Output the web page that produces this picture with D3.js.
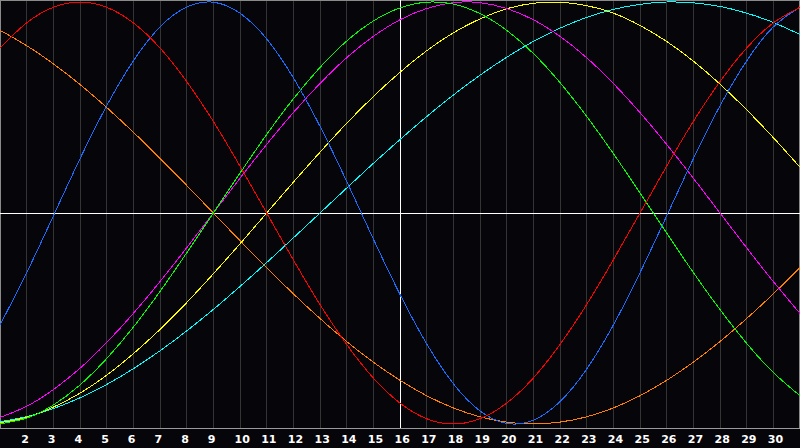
<!DOCTYPE html>
<html>
<head>
<meta charset="utf-8">
<script src="https://cdn.jsdelivr.net/npm/d3@7"></script>
<style>
    html, body { margin: 0; padding: 0; background: #060509; }
    svg { display: block; }
</style>
</head>
<body>
<svg width="800" height="448"></svg>
<script>
var days = d3.range(1, 32);
var tickDays = d3.range(2, 31);
var today = 16;

// daily cycle values (-1 .. 1)
var red = [0.782, 0.901, 0.975, 1.000, 0.975, 0.901, 0.782, 0.623, 0.434, 0.222, 0.000, -0.222, -0.434, -0.623, -0.782, -0.901,
    -0.975, -1.000, -0.975, -0.901, -0.782, -0.623, -0.434, -0.222, 0.000, 0.222, 0.434, 0.623, 0.782, 0.901, 0.975];
var blue = [-0.531, -0.283, -0.014, 0.257, 0.508, 0.721, 0.882, 0.976, 0.999, 0.947, 0.825, 0.641, 0.411, 0.150, -0.123, -0.386,
    -0.620, -0.809, -0.938, -0.997, -0.982, -0.894, -0.740, -0.531, -0.283, -0.014, 0.257, 0.508, 0.721, 0.882, 0.976];
var green = [-0.999, -0.972, -0.910, -0.815, -0.690, -0.541, -0.372, -0.189, 0.000, 0.189, 0.372, 0.541, 0.690, 0.815, 0.910, 0.972,
    0.999, 0.990, 0.945, 0.866, 0.756, 0.618, 0.458, 0.282, 0.095, -0.095, -0.282, -0.458, -0.618, -0.756, -0.866];
var magenta = [-0.969, -0.916, -0.837, -0.736, -0.614, -0.476, -0.325, -0.165, 0.000, 0.165, 0.325, 0.476, 0.614, 0.736, 0.837, 0.916,
    0.969, 0.997, 0.997, 0.969, 0.916, 0.837, 0.736, 0.614, 0.476, 0.325, 0.165, 0.000, -0.165, -0.325, -0.476];
var yellow = [-0.994, -0.968, -0.920, -0.854, -0.769, -0.667, -0.552, -0.425, -0.288, -0.146, 0.000, 0.146, 0.288, 0.425, 0.552, 0.667,
    0.769, 0.854, 0.920, 0.968, 0.994, 0.999, 0.983, 0.947, 0.889, 0.813, 0.720, 0.611, 0.489, 0.357, 0.217];
var orange = [0.866, 0.793, 0.707, 0.609, 0.500, 0.383, 0.259, 0.131, 0.000, -0.131, -0.259, -0.383, -0.500, -0.609, -0.707, -0.793,
    -0.866, -0.924, -0.966, -0.991, -1.000, -0.991, -0.966, -0.924, -0.866, -0.793, -0.707, -0.609, -0.500, -0.383, -0.259];
var cyan = [-0.989, -0.965, -0.927, -0.876, -0.813, -0.738, -0.653, -0.559, -0.457, -0.348, -0.235, -0.118, 0.000, 0.118, 0.235, 0.348,
    0.457, 0.559, 0.653, 0.738, 0.813, 0.876, 0.927, 0.965, 0.989, 1.000, 0.996, 0.979, 0.947, 0.903, 0.846];

var series = [
    {id: "orange", color: "#ff8000", values: orange},
    {id: "cyan", color: "#00ffff", values: cyan},
    {id: "yellow", color: "#ffff00", values: yellow},
    {id: "magenta", color: "#ff00ff", values: magenta},
    {id: "green", color: "#00ff00", values: green},
    {id: "blue", color: "#1a6cff", values: blue},
    {id: "red", color: "#ff0000", values: red}
];

(function () {
    var svg = d3.select("svg"),
        width = +svg.attr("width"),
        plotBottom = 428;

    var scaleX = d3.scaleLinear().domain([1, 31]).range([0, width]),
        scaleY = d3.scaleLinear().domain([-1, 1]).range([424, 2]);

    var px = function (v) {
        return Math.floor(v) + 0.5;
    };

    svg.append("rect")
        .attr("width", width)
        .attr("height", 448)
        .attr("fill", "#060509");

    // day grid
    svg.append("g")
        .selectAll("line")
        .data(tickDays)
        .enter().append("line")
        .attr("x1", function (d) { return px(scaleX(d)); })
        .attr("x2", function (d) { return px(scaleX(d)); })
        .attr("y1", 0)
        .attr("y2", plotBottom)
        .attr("stroke", "#343434")
        .attr("shape-rendering", "crispEdges");

    // frame
    svg.append("path")
        .attr("d", "M0.5," + plotBottom + "V0.5H" + (width - 0.5) + "V" + plotBottom)
        .attr("fill", "none")
        .attr("stroke", "#8a8a8a")
        .attr("shape-rendering", "crispEdges");

    // zero line and today marker
    svg.append("line")
        .attr("x1", 0).attr("x2", width)
        .attr("y1", px(scaleY(0))).attr("y2", px(scaleY(0)))
        .attr("stroke", "#ffffff")
        .attr("shape-rendering", "crispEdges");
    svg.append("line")
        .attr("x1", px(scaleX(today))).attr("x2", px(scaleX(today)))
        .attr("y1", 0).attr("y2", plotBottom)
        .attr("stroke", "#ffffff")
        .attr("shape-rendering", "crispEdges");

    var line = d3.line()
        .curve(d3.curveNatural)
        .x(function (d, i) { return scaleX(days[i]); })
        .y(function (d) { return scaleY(d); });

    svg.append("g")
        .selectAll("path")
        .data(series)
        .enter().append("path")
        .attr("d", function (s) { return line(s.values); })
        .attr("fill", "none")
        .attr("stroke", function (s) { return s.color; })
        .attr("stroke-width", 1)
        .attr("shape-rendering", "crispEdges");

    // bottom axis
    var axis = svg.append("g")
        .attr("transform", "translate(0," + plotBottom + ")")
        .call(d3.axisBottom(scaleX).tickValues(tickDays).tickSize(0).tickFormat(d3.format("d")));

    axis.select(".domain")
        .attr("d", "M0,0.5H" + width)
        .attr("stroke", "#9a9a9a")
        .attr("shape-rendering", "crispEdges");

    axis.selectAll("text")
        .attr("x", -6)
        .attr("y", 15)
        .attr("dy", 0)
        .attr("text-anchor", "start")
        .attr("fill", "#ffffff")
        .style("font", "bold 11px 'DejaVu Sans', sans-serif");
})();
</script>
</body>
</html>
